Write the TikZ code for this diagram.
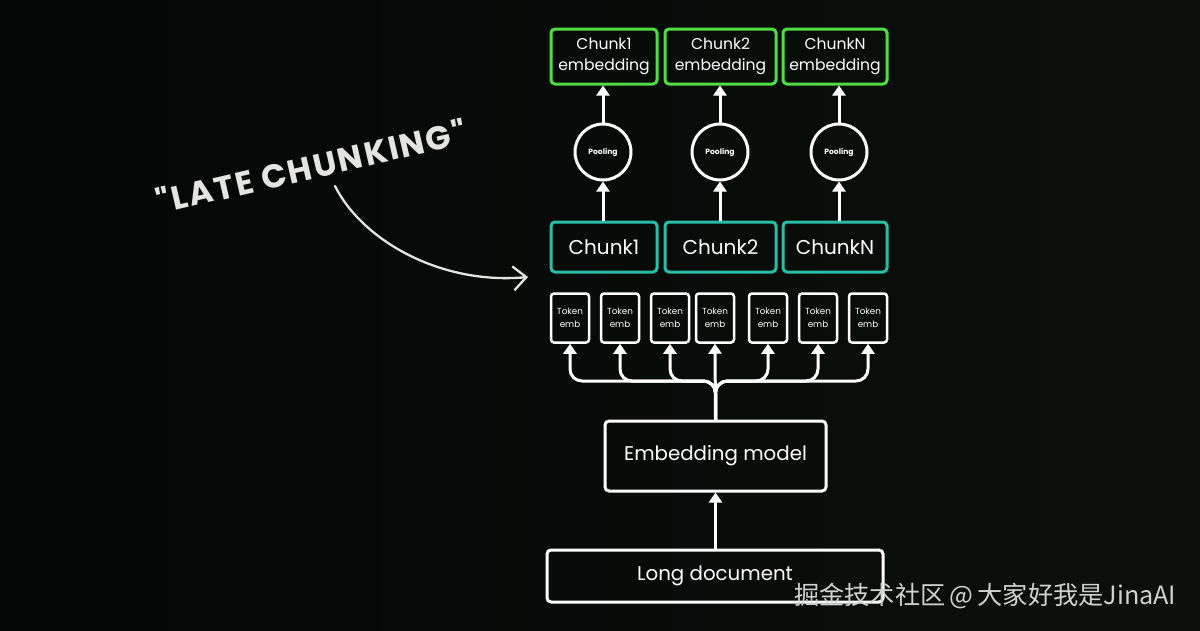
\documentclass[tikz,border=0pt]{standalone}
\usepackage{fontspec}
\setmainfont{Poppins}
\newfontfamily\cjk{Noto Sans CJK SC}
\newfontfamily\handfont[LetterSpace=6]{Poppins}
\usetikzlibrary{arrows.meta}
\definecolor{bgl}{RGB}{4,6,5}
\definecolor{bgr}{RGB}{12,17,13}
\definecolor{grn}{RGB}{78,222,68}
\definecolor{tealc}{RGB}{42,190,168}
\definecolor{chalk}{RGB}{228,228,226}
\tikzset{
  every node/.style={text=white, inner sep=0pt},
  embbox/.style={draw=grn, line width=3pt, rounded corners=4pt, minimum height=55pt, align=center, font=\fontsize{15.6}{20.5}\selectfont},
  chunkbox/.style={draw=tealc, line width=3pt, rounded corners=4pt, minimum height=50pt, font=\fontsize{20}{24}\selectfont},
  tokbox/.style={draw=white, line width=2.5pt, rounded corners=3pt, minimum width=38pt, minimum height=49pt, align=center, font=\fontsize{8.8}{12.5}\selectfont},
  poolc/.style={circle, draw=white, line width=3pt, minimum size=56pt, font=\bfseries\fontsize{7.6}{8}\selectfont},
  bigbox/.style={draw=white, line width=3pt, rounded corners=4pt, font=\fontsize{19.8}{23}\selectfont},
  arr/.style={draw=white, line width=3pt, -{Triangle[width=13pt,length=10pt]}},
}
\begin{document}
\begin{tikzpicture}[x=1pt,y=-1pt]
\useasboundingbox (0,0) rectangle (1200,630);
\shade[left color=bgl, right color=bgr] (0,0) rectangle (1200,630);

% top embedding boxes
\node[embbox, minimum width=106pt] (e1) at (604,56.5) {Chunk1\\embedding};
\node[embbox, minimum width=111pt] (e2) at (720.5,56.5) {Chunk2\\embedding};
\node[embbox, minimum width=104pt] (e3) at (835,56.5) {ChunkN\\embedding};

% pooling
\node[poolc] (p1) at (603,152) {Pooling};
\node[poolc] (p2) at (720,152) {Pooling};
\node[poolc] (p3) at (839,152) {Pooling};

% chunks
\node[chunkbox, minimum width=106pt] (c1) at (604,247) {Chunk1};
\node[chunkbox, minimum width=111pt] (c2) at (720.5,247) {Chunk2};
\node[chunkbox, minimum width=104pt] (c3) at (835,247) {ChunkN};

% tokens
\foreach \i/\x in {1/570,2/620,3/670,4/715,5/768,6/818,7/868}{
  \node[tokbox] (t\i) at (\x,318) {Token\\emb};
}

% embedding model & document
\node[bigbox, minimum width=221pt, minimum height=70pt] (em) at (715.5,456) {Embedding model};
\node[bigbox, minimum width=336pt, minimum height=52pt] (doc) at (715,576) {Long document};

% arrows
\foreach \i in {1,2,3}{
  \draw[arr] (c\i.north -| p\i) -- (p\i.south);
  \draw[arr] (p\i.north) -- (e\i.south -| p\i);
}
\draw[arr] (doc.north -| em) -- (em.south);
\coordinate (bar) at (715,381);
\foreach \i in {1,2,3,5,6,7}{
  \draw[arr, rounded corners=12pt] (em.north) -- (em.north |- bar) -| (t\i.south);
}
\draw[arr] (em.north) -- (t4.south);

% handwritten label
\node[text=chalk, font=\handfont\bfseries\fontsize{33}{36}\selectfont, rotate=13, anchor=center] (late) at (311,166) {"LATE CHUNKING"};
\coordinate (cs) at (335,186);
\coordinate (ce) at (528,277);
\draw[chalk, line width=2.3pt, line cap=round, -{Straight Barb[length=13pt,width=24pt,line width=2.3pt]}]
  (cs) .. controls (362,240) and (440,285) .. (ce);

% watermark
\node[anchor=west, text=white!82!black, font=\cjk\fontsize{25.2}{29}\selectfont] (wm) at (794,596) {掘金技术社区\,@\,大家好我是JinaAI};
\end{tikzpicture}
\end{document}
